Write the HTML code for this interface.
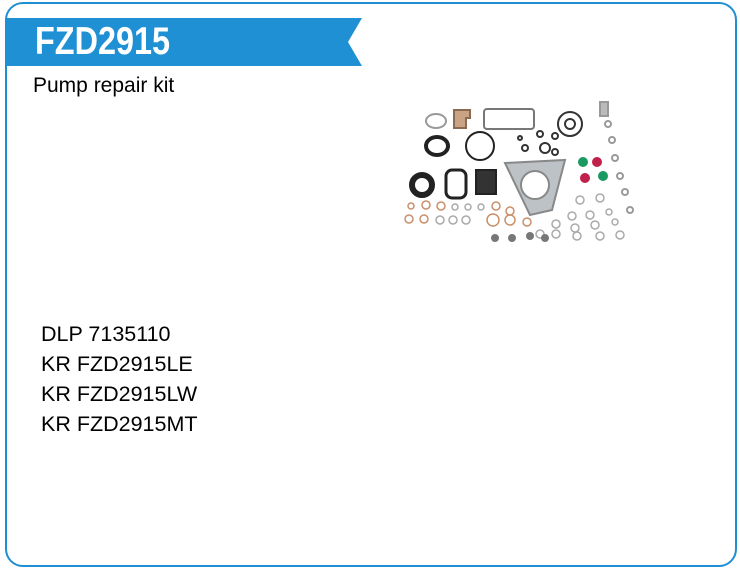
<!DOCTYPE html>
<html><head><style>
body{margin:0;width:740px;height:576px;background:#fff;font-family:"Liberation Sans",Arial,sans-serif;position:relative;overflow:hidden}
.frame{position:absolute;left:5px;top:2px;width:728px;height:561px;border:2px solid #1f8fd2;border-radius:18px}
.t{position:absolute;color:#000;font-size:21.5px;white-space:nowrap}
</style></head><body>
<div class="frame"></div>
<svg width="740" height="576" style="position:absolute;left:0;top:0">
<polygon points="6,18 362,18 348,42 362,66 6,66" fill="#1f90d3"/>
<text x="35" y="54" fill="#fff" font-family="Liberation Sans" font-weight="bold" font-size="39" textLength="135" lengthAdjust="spacingAndGlyphs">FZD2915</text>
<g fill="none" stroke-width="2">
<ellipse cx="436" cy="121" rx="10" ry="7" stroke="#999"/>
<path d="M454 110 h16 v8 h-4 v10 h-12z" fill="#c9a383" stroke="#8a6a50"/>
<rect x="484" y="109" width="50" height="20" rx="3" stroke="#777"/>
<circle cx="570" cy="124" r="12" stroke="#333"/>
<circle cx="570" cy="124" r="5" stroke="#333"/>
<ellipse cx="437" cy="146" rx="11" ry="9" stroke="#222" stroke-width="4"/>
<circle cx="480" cy="146" r="14" stroke="#222"/>
<ellipse cx="422" cy="185" rx="10" ry="10" stroke="#222" stroke-width="6"/>
<rect x="446" y="170" width="20" height="28" rx="6" stroke="#222" stroke-width="3"/>
<rect x="476" y="170" width="20" height="24" fill="#333" stroke="#222"/>
<polygon points="505,163 565,160 552,210 530,215" fill="#bcc2c6" stroke="#888"/>
<circle cx="535" cy="185" r="14" fill="#fff" stroke="#888"/>
<rect x="600" y="102" width="8" height="14" fill="#bbb" stroke="#999"/>
<g stroke="#999"><circle cx="608" cy="124" r="3"/><circle cx="612" cy="140" r="3"/><circle cx="615" cy="158" r="3"/><circle cx="620" cy="176" r="3"/><circle cx="625" cy="192" r="3"/><circle cx="630" cy="210" r="3"/></g>
<g fill="#1a9a60" stroke="#1a9a60"><circle cx="583" cy="162" r="4"/><circle cx="603" cy="176" r="4"/></g>
<g fill="#c0204a" stroke="#c0204a"><circle cx="597" cy="162" r="4"/><circle cx="585" cy="178" r="4"/></g>
<g stroke="#c9906a" stroke-width="1.5">
<circle cx="411" cy="206" r="3"/><circle cx="426" cy="205" r="4"/><circle cx="441" cy="206" r="4"/><circle cx="496" cy="206" r="4"/><circle cx="510" cy="211" r="4"/><circle cx="409" cy="219" r="4"/><circle cx="424" cy="219" r="4"/><circle cx="493" cy="220" r="6"/><circle cx="510" cy="220" r="5"/><circle cx="527" cy="222" r="4"/></g>
<g stroke="#aaa" stroke-width="1.5">
<circle cx="455" cy="207" r="3"/><circle cx="468" cy="207" r="3"/><circle cx="481" cy="207" r="3"/><circle cx="440" cy="220" r="4"/><circle cx="453" cy="220" r="4"/><circle cx="466" cy="220" r="4"/><circle cx="580" cy="200" r="4"/><circle cx="600" cy="198" r="4"/><circle cx="572" cy="216" r="4"/><circle cx="590" cy="215" r="4"/><circle cx="609" cy="212" r="3"/><circle cx="556" cy="224" r="4"/><circle cx="575" cy="228" r="4"/><circle cx="595" cy="225" r="4"/><circle cx="615" cy="222" r="3"/><circle cx="556" cy="234" r="4"/><circle cx="577" cy="236" r="4"/><circle cx="600" cy="236" r="4"/><circle cx="620" cy="235" r="4"/><circle cx="540" cy="234" r="4"/></g>
<g fill="#777" stroke="#777"><circle cx="495" cy="238" r="3"/><circle cx="512" cy="238" r="3"/><circle cx="530" cy="236" r="3"/><circle cx="545" cy="238" r="3"/></g>
<g stroke="#333"><circle cx="540" cy="134" r="3"/><circle cx="555" cy="136" r="3"/><circle cx="520" cy="138" r="2"/><circle cx="525" cy="148" r="3"/><circle cx="555" cy="152" r="3"/><circle cx="545" cy="148" r="5"/></g>
</g>
</svg>
<div class="t" style="left:33px;top:74px;font-size:21px">Pump repair kit</div>
<div class="t" style="left:41px;top:322px">DLP 7135110</div>
<div class="t" style="left:41px;top:352px">KR FZD2915LE</div>
<div class="t" style="left:41px;top:382px">KR FZD2915LW</div>
<div class="t" style="left:41px;top:412px">KR FZD2915MT</div>
</body></html>
